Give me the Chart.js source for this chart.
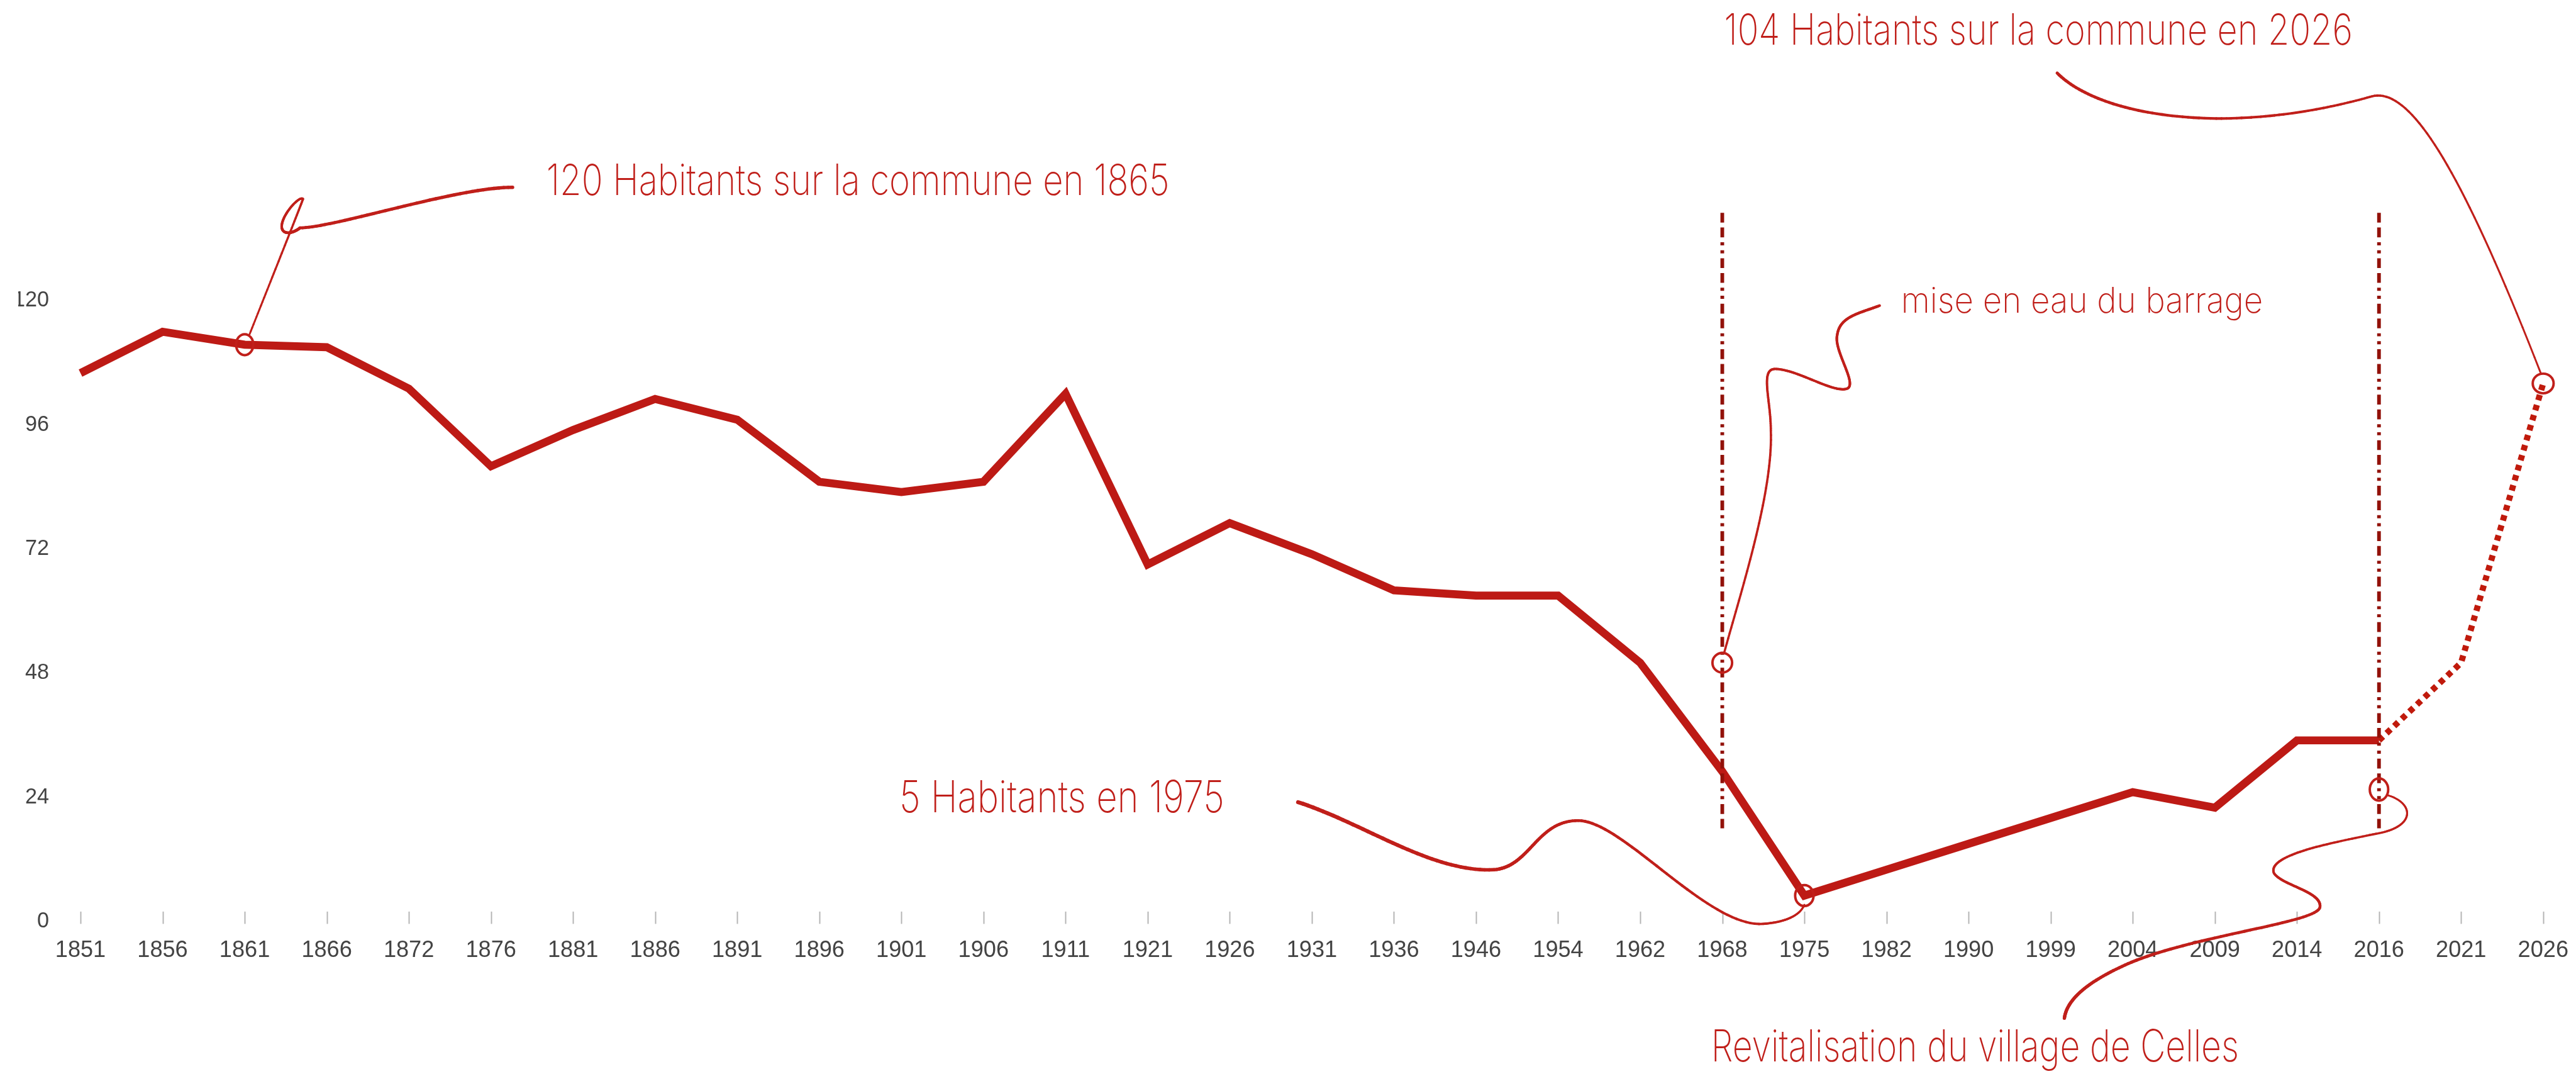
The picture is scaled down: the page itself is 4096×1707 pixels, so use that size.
<!DOCTYPE html>
<html lang="fr">
<head>
<meta charset="UTF-8">
<title>Habitants de Celles</title>
<script src="https://cdn.jsdelivr.net/npm/chart.js"></script>
<style>
    html, body { margin: 0; padding: 0; background: #fff; }
    .chart-box { position: relative; width: 4096px; height: 1707px; }
</style>
</head>
<body>
<div class="chart-box"><canvas id="popChart"></canvas></div>
<script>
    // everything below is measured on the 4190px reference, then scaled
    const S = 0.977;

    const years = ['1851', '1856', '1861', '1866', '1872', '1876', '1881', '1886', '1891', '1896',
        '1901', '1906', '1911', '1921', '1926', '1931', '1936', '1946', '1954', '1962',
        '1968', '1975', '1982', '1990', '1999', '2004', '2009', '2014', '2016', '2021', '2026'];
    const population = [106, 114, 111.5, 111, 103, 88, 95, 101, 97, 85,
        83, 85, 102, 69, 77, 71, 64, 63, 63, 50,
        29, 5, 10, 15, 20, 25, 22, 35, 35, null, null];
    const projection = [null, null, null, null, null, null, null, null, null, null,
        null, null, null, null, null, null, null, null, null, null,
        null, null, null, null, null, null, null, null, 35, 50, 104];
    const yTicks = [0, 24, 48, 72, 96, 120];

    // dash-dot markers
    const markerYears = ['1968', '2016'];
    const markerRange = [18, 137];

    // annotations: where they point to and what they say
    const noteYears = ['1861', '1968', '1975', '2026', '2016'];
    const noteValues = [111.5, 50, 5, 104, 25.5];
    const noteTexts = [
        '120 Habitants sur la commune en 1865',
        'mise en eau du barrage',
        '5 Habitants en 1975',
        '104 Habitants sur la commune en 2026',
        'Revitalisation du village de Celles'
    ];

    const lineColor = '#bd1a15';
    const noteColor = '#c01f1a';
    const markerColor = '#921109';

    // shapes, in reference px relative to the annotated point
    const noteShapes = [
        { circle: [14, 17], start: [8, -17],
          segs: [[35, -85, 85, -210, 95, -237], [89, -244, 55, -205, 61, -188],
                 [65, -178, 80, -182, 90, -190], [145, -190, 345, -256, 436, -256]],
          w: [3, 5.5], text: [491, -243, 1014], size: 70 },
        { circle: [16, 16], start: [3, -16],
          segs: [[31, -118, 83, -278, 79, -378], [79, -428, 61, -478, 86, -478],
                 [121, -478, 181, -438, 203, -446], [221, -453, 181, -508, 187, -533],
                 [191, -563, 221, -568, 256, -581]],
          w: [3.5, 4.5], text: [291, -570, 589], size: 58 },
        { circle: [15, 17], start: [-824, -152],
          segs: [[-716, -117, -606, -37, -505, -42], [-446, -47, -436, -122, -368, -122],
                 [-296, -122, -156, 53, -67, 46], [-26, 43, -6, 30, 0, 15]],
          w: [6.5, 3], text: [-1473, -136, 529], size: 72 },
        { circle: [17, 16], start: [-791, -505],
          segs: [[-749, -463, -659, -433, -532, -431], [-419, -431, -329, -453, -279, -467],
                 [-219, -483, -139, -363, -4, -17]],
          w: [5, 3], text: [-1333, -551, 1023], size: 70 },
        { circle: [15, 18], start: [13, 9],
          segs: [[57, 21, 62, 61, -5, 72], [-73, 86, -183, 106, -171, 136],
                 [-158, 156, -93, 166, -96, 191], [-98, 216, -293, 236, -403, 281],
                 [-473, 311, -508, 341, -512, 372]],
          w: [3, 5.5], text: [-1087, 442, 859], size: 72 }
    ];

    function bezierPoints(p0, seg, n) {
        const pts = [];
        for (let i = 1; i <= n; i++) {
            const t = i / n, u = 1 - t;
            const a = u * u * u, b = 3 * u * u * t, c = 3 * u * t * t, d = t * t * t;
            pts.push([a * p0[0] + b * seg[0] + c * seg[2] + d * seg[4],
                      a * p0[1] + b * seg[1] + c * seg[3] + d * seg[5]]);
        }
        return pts;
    }

    const tickMarks = {
        id: 'tickMarks',
        beforeDatasetsDraw(chart) {
            const ctx = chart.ctx, x = chart.scales.x, y = chart.scales.y;
            const y0 = y.getPixelForValue(0);
            ctx.save();
            ctx.strokeStyle = '#b4b4b4';
            ctx.lineWidth = 2 * S;
            years.forEach((yr, i) => {
                const px = Math.round(x.getPixelForTick(i)) + 0.5;
                ctx.beginPath();
                ctx.moveTo(px, y0 - 16 * S);
                ctx.lineTo(px, y0 + 4 * S);
                ctx.stroke();
            });
            ctx.restore();
        }
    };

    const annotations = {
        id: 'annotations',
        afterDatasetsDraw(chart) {
            const ctx = chart.ctx, x = chart.scales.x, y = chart.scales.y;
            ctx.save();

            // vertical dash-dot markers
            ctx.strokeStyle = markerColor;
            ctx.lineWidth = 6 * S;
            ctx.lineCap = 'butt';
            ctx.setLineDash([16, 8, 16, 8, 5, 8, 5, 8].map(v => v * S));
            markerYears.forEach(yr => {
                const px = x.getPixelForValue(years.indexOf(yr));
                ctx.beginPath();
                ctx.moveTo(px, y.getPixelForValue(markerRange[1]));
                ctx.lineTo(px, y.getPixelForValue(markerRange[0]));
                ctx.stroke();
            });
            ctx.setLineDash([]);

            noteShapes.forEach((shape, k) => {
                const ax = x.getPixelForValue(years.indexOf(noteYears[k]));
                const ay = y.getPixelForValue(noteValues[k]);
                const P = (dx, dy) => [ax + dx * S, ay + dy * S];

                // little circle on the point
                ctx.strokeStyle = noteColor;
                ctx.lineWidth = 4 * S;
                ctx.beginPath();
                ctx.ellipse(ax, ay, shape.circle[0] * S, shape.circle[1] * S, 0, 0, Math.PI * 2);
                ctx.stroke();

                // connector, drawn in short pieces so the width can taper
                let cur = P(shape.start[0], shape.start[1]);
                let pts = [cur];
                shape.segs.forEach(s => {
                    const c1 = P(s[0], s[1]), c2 = P(s[2], s[3]), e = P(s[4], s[5]);
                    pts = pts.concat(bezierPoints(cur, [c1[0], c1[1], c2[0], c2[1], e[0], e[1]], 40));
                    cur = e;
                });
                ctx.lineCap = 'round';
                for (let i = 1; i < pts.length; i++) {
                    const t = i / (pts.length - 1);
                    ctx.lineWidth = (shape.w[0] + (shape.w[1] - shape.w[0]) * t) * S;
                    ctx.beginPath();
                    ctx.moveTo(pts[i - 1][0], pts[i - 1][1]);
                    ctx.lineTo(pts[i][0], pts[i][1]);
                    ctx.stroke();
                }

                // label, squeezed to the handwritten width
                const tp = P(shape.text[0], shape.text[1]);
                ctx.font = '200 ' + (shape.size * S) + 'px Inter, Lato, "DejaVu Sans"';
                ctx.fillStyle = noteColor;
                ctx.textBaseline = 'alphabetic';
                ctx.textAlign = 'left';
                const w = ctx.measureText(noteTexts[k]).width;
                ctx.save();
                ctx.translate(tp[0], tp[1]);
                ctx.scale(shape.text[2] * S / w, 1);
                ctx.fillText(noteTexts[k], 0, 0);
                ctx.restore();
            });
            ctx.restore();
        }
    };

    const ctx = document.getElementById('popChart').getContext('2d');
    new Chart(ctx, {
        type: 'line',
        data: {
            labels: years,
            datasets: [
                {
                    data: population,
                    borderColor: lineColor,
                    borderWidth: 13 * S,
                    borderJoinStyle: 'miter',
                    borderCapStyle: 'butt',
                    pointRadius: 0,
                    tension: 0,
                    fill: false
                },
                {
                    data: projection,
                    borderColor: '#c01a0c',
                    borderWidth: 10 * S,
                    borderDash: [9 * S, 8 * S],
                    borderCapStyle: 'butt',
                    pointRadius: 0,
                    tension: 0,
                    fill: false
                }
            ]
        },
        options: {
            responsive: true,
            maintainAspectRatio: false,
            animation: false,
            devicePixelRatio: 1,
            layout: { padding: { top: 20, left: 29, right: 52.2, bottom: 182.5 } },
            plugins: { legend: { display: false }, tooltip: { enabled: false } },
            scales: {
                x: {
                    type: 'category',
                    grid: { display: false },
                    border: { display: false },
                    afterFit: axis => { axis.height = 60; axis.paddingLeft = 0; axis.paddingRight = 0; },
                    ticks: {
                        autoSkip: false,
                        maxRotation: 0,
                        padding: 16.4,
                        color: '#444',
                        font: { family: '"Liberation Sans", Arial, sans-serif', size: 37 * S }
                    }
                },
                y: {
                    min: 0,
                    max: 175.7,
                    grid: { display: false },
                    border: { display: false },
                    afterBuildTicks: axis => { axis.ticks = yTicks.map(v => ({ value: v })); },
                    afterFit: axis => { axis.width = 99; axis.paddingTop = 0; axis.paddingBottom = 0; },
                    ticks: {
                        padding: 42,
                        color: '#444',
                        font: { family: '"Liberation Sans", Arial, sans-serif', size: 35 * S }
                    }
                }
            }
        },
        plugins: [tickMarks, annotations]
    });
</script>
</body>
</html>
